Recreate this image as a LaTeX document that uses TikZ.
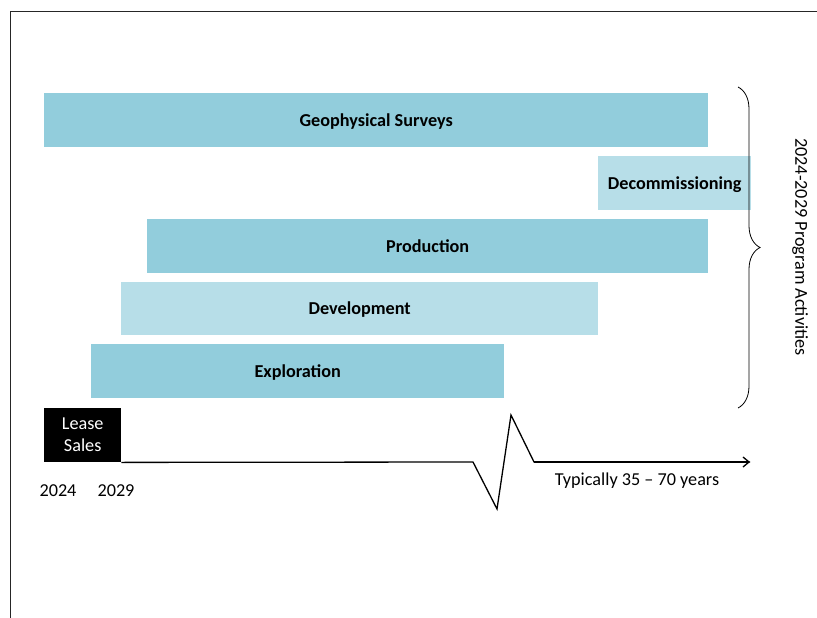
\documentclass[tikz,border=0pt]{standalone}
\usepackage{fontspec}
\setmainfont{Carlito}
\usetikzlibrary{arrows.meta,decorations.pathreplacing}
\definecolor{darkbar}{HTML}{92CDDC}
\definecolor{lightbar}{HTML}{B7DEE8}
\tikzset{
  bar/.style={draw=none, inner sep=0pt, text height=11.6pt, text depth=0pt, font=\fontsize{18.2}{22}\selectfont\bfseries, text=black},
  darkb/.style={bar, fill=darkbar},
  lightb/.style={bar, fill=lightbar},
  lbl/.style={font=\fontsize{18.2}{22}\selectfont, text=black, inner sep=0pt},
  axisline/.style={line width=1.3pt, line join=miter},
}
\begin{document}
\begin{tikzpicture}[x=1pt,y=-1pt]
\useasboundingbox (0,0) rectangle (817,618);
\fill[white] (0,0) rectangle (817,618);
% frame
\draw[line width=1.2pt, black!85] (10.5,618) -- (10.5,11.5) -- (817,11.5);
% bars
\node[darkb, minimum width=664, minimum height=54, anchor=north west] (geo) at (44,93) {Geophysical Surveys};
\node[lightb, minimum width=153, minimum height=54, anchor=north west] (dec) at (598,156) {Decommissioning};
\node[darkb, minimum width=561, minimum height=54, anchor=north west] (prod) at (147,219) {Production};
\node[lightb, minimum width=477, minimum height=53, anchor=north west] (dev) at (121,282) {Development};
\node[darkb, minimum width=413, minimum height=54, anchor=north west] (expl) at (91,344) {Exploration};
% lease sales
\node[fill=black, minimum width=77, minimum height=54, anchor=north west, inner sep=0pt, align=center, text=white, font=\fontsize{18.2}{22}\selectfont] (lease) at (44,408) {Lease\\Sales};
% axis
\coordinate (z1) at (473,462);
\coordinate (z2) at (497,509);
\coordinate (z3) at (511,415);
\coordinate (z4) at (534,462);
\coordinate (aend) at (750,462);
\draw[axisline] (lease.south east) -- (z1) -- (z2) -- (z3) -- (z4) -- (aend);
\draw[line width=1.3pt, -{Straight Barb[length=6pt,width=10pt]}] (z4) -- (aend);
% labels
\node[lbl] (y1) at (58,491) {2024};
\node[lbl] (y2) at (116,491) {2029};
\node[lbl] (typ) at (637,481) {Typically 35 -- 70 years};
% brace
\coordinate (bt) at (738,87);
\coordinate (bb) at (738,408);
\draw[line width=0.8pt, decorate, decoration={brace, amplitude=22pt, aspect=0.5}] (bt) -- (bb);
\node[lbl, rotate=-90] (prog) at (800,247) {2024-2029 Program Activities};
\end{tikzpicture}
\end{document}
